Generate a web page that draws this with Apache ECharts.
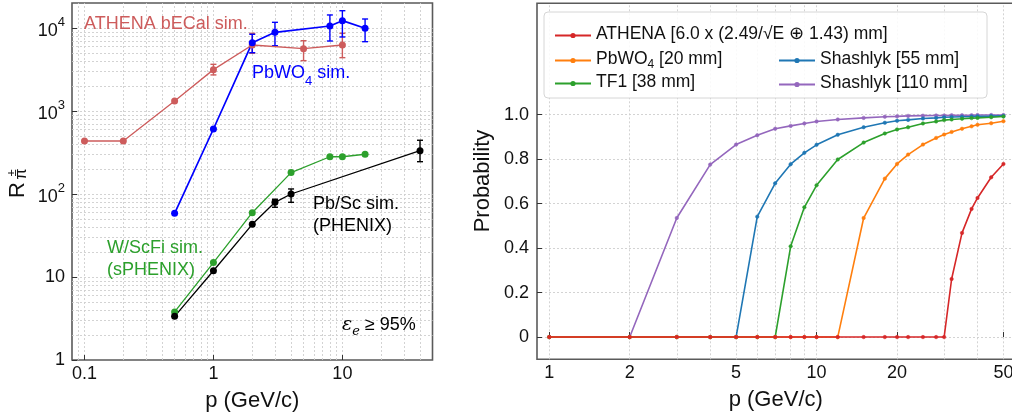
<!DOCTYPE html>
<html><head><meta charset="utf-8">
<script src="https://cdn.jsdelivr.net/npm/echarts@6/dist/echarts.min.js"></script>
<style>html,body{margin:0;padding:0;background:#fff}#c{width:1012px;height:419px}</style>
</head><body><div id="c"></div>
<script>
// ---------- Left panel: pion rejection R vs p ----------
const athenaP  = [0.1, 0.2, 0.5, 1, 2, 5, 10];
const athenaR  = [435, 435, 1320, 3150, 6240, 5630, 6240];
const athenaLo = [null, null, null, 2720, 4960, 4040, 4390];
const athenaHi = [null, null, null, 3650, 8630, 7030, 8630];

const pbwoP  = [0.5, 1, 2, 3, 8, 10, 15];
const pbwoR  = [58.5, 607, 6650, 8870, 10570, 12250, 9910];
const pbwoLo = [null, null, 5040, 6120, 6970, 7790, 6840];
const pbwoHi = [null, null, 8390, 11700, 14350, 16150, 12830];

const wscfiP = [0.5, 1, 2, 4, 8, 10, 15];
const wscfiR = [3.79, 14.9, 59.5, 181, 281, 281, 301];

const pbscP  = [0.5, 1, 2, 3, 4, 40];
const pbscR  = [3.36, 11.9, 43.1, 79.4, 100, 332];
const pbscLo = [null, null, null, 69.2, 79.4, 245];
const pbscHi = [null, null, null, 86.3, 115, 444];

const leftXLabels = [0.1, 1, 10];
const leftYLabels = [1, 10, 100, 1000, 10000];

// ---------- Right panel: probability vs p ----------
const pGrid = [1, 2, 3, 4, 5, 6, 7, 8, 9, 10, 12, 15, 18, 20, 22, 25, 28, 30, 32, 35, 38, 40, 45, 50];
const probAthena = [0,0,0,0,0,0,0,0,0,0,0,0,0,0,0,0,0,0, 0.261,0.468,0.576,0.625,0.718,0.778];
const probPbWO4  = [0,0,0,0,0,0,0,0,0,0,0, 0.535,0.712,0.778,0.820,0.865,0.895,0.910,0.922,0.936,0.947,0.954,0.961,0.970];
const probTF1    = [0,0,0,0,0,0,0, 0.408,0.583,0.682,0.798,0.874,0.915,0.933,0.943,0.960,0.969,0.975,0.978,0.981,0.984,0.985,0.988,0.991];
const probSh55   = [0,0,0,0,0, 0.541,0.691,0.777,0.828,0.864,0.909,0.943,0.963,0.972,0.976,0.982,0.985,0.988,0.989,0.990,0.991,0.992,0.993,0.994];
const probSh110  = [0,0, 0.535,0.775,0.865,0.907,0.936,0.949,0.960,0.969,0.978,0.985,0.990,0.992,0.994,0.995,0.996,0.996,0.997,0.997,0.997,0.998,0.998,0.998];

const rightXLabels = [1, 2, 5, 10, 20, 50];
const rightYLabels = [0, 0.2, 0.4, 0.6, 0.8, 1.0];

const seriesNames = {
  athena: 'ATHENA [6.0 x (2.49/\u221AE \u2295 1.43) mm]',
  pbwo: 'PbWO4 [20 mm]',
  tf1: 'TF1 [38 mm]',
  sh55: 'Shashlyk [55 mm]',
  sh110: 'Shashlyk [110 mm]'
};

// ---------- helpers ----------
const FONT = 'Liberation Sans, Arial, Helvetica, sans-serif';
const GRIDC = '#cfcfcf';
function zip(xs, ys) { return xs.map((x, i) => [x, ys[i]]); }
function minors(decades) {
  const out = [];
  decades.forEach(d => { for (let k = 2; k <= 9; k++) out.push(+(k * d).toPrecision(6)); });
  return out;
}
function errSeries(xs, lo, hi, color, gi) {
  const data = [];
  xs.forEach((x, i) => { if (lo[i] != null) data.push([x, lo[i], hi[i]]); });
  return {
    type: 'custom', xAxisIndex: gi, yAxisIndex: gi, z: 4, silent: true,
    encode: { x: 0, y: [1, 2] }, data,
    renderItem: (params, api) => {
      const x = api.value(0);
      const a = api.coord([x, api.value(1)]);
      const b = api.coord([x, api.value(2)]);
      const w = 3, st = { stroke: color, lineWidth: 1.4 };
      return { type: 'group', children: [
        { type: 'line', shape: { x1: a[0], y1: a[1], x2: b[0], y2: b[1] }, style: st },
        { type: 'line', shape: { x1: a[0] - w, y1: a[1], x2: a[0] + w, y2: a[1] }, style: st },
        { type: 'line', shape: { x1: b[0] - w, y1: b[1], x2: b[0] + w, y2: b[1] }, style: st }
      ]};
    }
  };
}
function gridLines(gi, xs, ys, anchor) {
  return {
    type: 'line', xAxisIndex: gi, yAxisIndex: gi, z: 0, silent: true,
    data: [anchor], symbol: 'none', lineStyle: { opacity: 0 },
    markLine: {
      z: 0, silent: true, symbol: 'none', animation: false,
      label: { show: false },
      lineStyle: { type: [2, 2], color: GRIDC, width: 0.9 },
      emphasis: { disabled: true },
      data: xs.map(v => ({ xAxis: v })).concat(ys.map(v => ({ yAxis: v })))
    }
  };
}
function fmtNum(v) { return String(+(+v).toPrecision(6)); }

const leftMinorX = [0.09].concat(minors([0.1, 1]), [20, 30, 40]);
const leftGridX = leftXLabels.concat(leftMinorX);
const leftGridY = [10, 100, 1000, 10000].concat(minors([1, 10, 100, 1000]));
const rightGridX = [2, 3, 4, 5, 6, 7, 8, 9, 10, 20, 30, 40, 50, 1];

const ATH = '#cd5c5c', BLUE = '#0000ff', GREEN = '#2ca02c', BLACK = '#000000';

const leftLine = (name, xs, ys, color, w) => ({
  name, type: 'line', xAxisIndex: 0, yAxisIndex: 0, z: 6,
  data: zip(xs, ys), symbol: 'none', showSymbol: false,
  lineStyle: { color, width: w }, itemStyle: { color }, animation: false
});
const leftDots = (name, xs, ys, color) => ({
  name: name + ' pts', type: 'scatter', xAxisIndex: 0, yAxisIndex: 0, z: 8,
  data: zip(xs, ys), symbol: 'circle', symbolSize: 7,
  itemStyle: { color, opacity: 1, borderWidth: 0 }, animation: false, silent: true
});
const rightLine = (name, ys, color, z) => ({
  name, type: 'line', xAxisIndex: 1, yAxisIndex: 1, z,
  data: zip(pGrid, ys), symbol: 'circle', symbolSize: 3.5, showSymbol: true,
  itemStyle: { color, borderColor: color, borderWidth: 0.5 },
  lineStyle: { color, width: 1.6 }, animation: false
});

const chart = echarts.init(document.getElementById('c'), null, { renderer: 'canvas' });
const tickLabel = { fontSize: 18, color: '#111', fontFamily: FONT };
const legText = { fontSize: 17.5, color: '#111', fontFamily: FONT };
const legBase = { z: 20, orient: 'vertical', itemWidth: 36, itemHeight: 4, itemGap: 2, selectedMode: false };

const option = {
  animation: false,
  backgroundColor: '#fff',
  textStyle: { fontFamily: FONT },
  grid: [
    { left: 72, top: 3, width: 360.5, height: 357, show: true, borderColor: '#5a5a5a', borderWidth: 1.6, backgroundColor: 'transparent', containLabel: false, outerBoundsMode: 'none' },
    { left: 537, top: 3.3, width: 477.5, height: 356, show: true, borderColor: '#5a5a5a', borderWidth: 1.6, backgroundColor: 'transparent', containLabel: false, outerBoundsMode: 'none' }
  ],
  xAxis: [
    { type: 'log', logBase: 10, gridIndex: 0, min: 0.08, max: 50,
      axisLine: { show: false }, splitLine: { show: false },
      axisTick: { show: true, inside: true, length: 5, customValues: leftXLabels, lineStyle: { color: '#333' } },
      axisLabel: Object.assign({ customValues: leftXLabels, margin: 5, formatter: fmtNum }, tickLabel),
      name: 'p (GeV/c)', nameLocation: 'middle', nameGap: 30,
      nameTextStyle: { fontSize: 22, color: '#111', fontFamily: FONT } },
    { type: 'log', logBase: 10, gridIndex: 1, min: 0.9, max: 55,
      axisLine: { show: false }, splitLine: { show: false },
      axisTick: { show: true, inside: true, length: 5, customValues: rightXLabels, lineStyle: { color: '#333' } },
      axisLabel: Object.assign({ customValues: rightXLabels, margin: 5, formatter: fmtNum }, tickLabel),
      name: 'p (GeV/c)', nameLocation: 'middle', nameGap: 30,
      nameTextStyle: { fontSize: 22, color: '#111', fontFamily: FONT } }
  ],
  yAxis: [
    { type: 'log', logBase: 10, gridIndex: 0, min: 1, max: 20000,
      axisLine: { show: false }, splitLine: { show: false },
      axisTick: { show: true, inside: true, length: 5, customValues: leftYLabels, lineStyle: { color: '#333' } },
      axisLabel: Object.assign({ customValues: leftYLabels, margin: 7,
        formatter: v => { const e = Math.round(Math.log10(v)); return e < 2 ? '{b|' + fmtNum(v) + '}' : '{p|10}{s|' + e + '}'; },
        rich: {
          b: { fontSize: 18, color: '#111', fontFamily: FONT },
          p: { fontSize: 18, color: '#111', fontFamily: FONT, padding: [7, 0, 0, 0] },
          s: { fontSize: 13, color: '#111', fontFamily: FONT, verticalAlign: 'top' }
        } }, tickLabel) },
    { type: 'value', gridIndex: 1, min: -0.1, max: 1.5, interval: 0.1,
      axisLine: { show: false },
      splitLine: { show: true, lineStyle: { type: [2, 2], color: GRIDC, width: 0.9 } },
      axisTick: { show: true, inside: true, length: 5, customValues: rightYLabels, lineStyle: { color: '#333' } },
      axisLabel: Object.assign({ customValues: rightYLabels, margin: 8,
        formatter: v => Math.abs(v) < 1e-9 ? '0' : (+v).toFixed(1) }, tickLabel) }
  ],
  legend: [
    Object.assign({}, legBase, { data: [seriesNames.athena], left: 549, top: 20,
      formatter: n => '{t|' + n + '}',
      textStyle: Object.assign({ rich: { t: Object.assign({ padding: [0, 0, 3, 0] }, legText) } }, legText) }),
    Object.assign({}, legBase, { data: [seriesNames.pbwo, seriesNames.tf1], left: 549, top: 45,
      formatter: n => n === seriesNames.pbwo ? '{t|PbWO}{s|4}{t| [20 mm]}' : '{t|' + n + '}',
      textStyle: Object.assign({
        rich: { t: Object.assign({ padding: [0, 0, 3, 0] }, legText),
                s: { fontSize: 12, color: '#111', fontFamily: FONT, verticalAlign: 'bottom' } } }, legText) }),
    Object.assign({}, legBase, { data: [seriesNames.sh55, seriesNames.sh110], left: 773, top: 45, itemGap: 6,
      formatter: n => '{t|' + n + '}',
      textStyle: Object.assign({ rich: { t: Object.assign({ padding: [0, 0, 3, 0] }, legText) } }, legText) })
  ],
  graphic: [
    { type: 'rect', z: 15, shape: { x: 544, y: 12, width: 443, height: 86, r: 4 },
      style: { fill: 'rgba(255,255,255,0.85)', stroke: '#d6d6d6', lineWidth: 1 }, silent: true },
    { type: 'text', z: 60, x: 84, y: 24, style: { text: 'ATHENA bECal sim.', fontSize: 18, fontFamily: FONT, fill: ATH, verticalAlign: 'middle', textVerticalAlign: 'middle' } },
    { type: 'text', z: 60, x: 252, y: 76, style: { text: '{a|PbWO}{b|4}{a| sim.}', fontSize: 18, fontFamily: FONT, fill: BLUE, verticalAlign: 'middle', textVerticalAlign: 'middle',
        rich: { a: { fontSize: 18, fill: BLUE, color: BLUE, fontFamily: FONT, padding: [0, 0, 5, 0] }, b: { fontSize: 13, fill: BLUE, color: BLUE, fontFamily: FONT, verticalAlign: 'bottom' } } } },
    { type: 'text', z: 60, x: 313, y: 204, style: { text: 'Pb/Sc sim.', fontSize: 18, fontFamily: FONT, fill: BLACK, verticalAlign: 'middle', textVerticalAlign: 'middle' } },
    { type: 'text', z: 60, x: 313, y: 226, style: { text: '(PHENIX)', fontSize: 18, fontFamily: FONT, fill: BLACK, verticalAlign: 'middle', textVerticalAlign: 'middle' } },
    { type: 'text', z: 60, x: 107, y: 248, style: { text: 'W/ScFi sim.', fontSize: 18, fontFamily: FONT, fill: GREEN, verticalAlign: 'middle', textVerticalAlign: 'middle' } },
    { type: 'text', z: 60, x: 107, y: 270, style: { text: '(sPHENIX)', fontSize: 18, fontFamily: FONT, fill: GREEN, verticalAlign: 'middle', textVerticalAlign: 'middle' } },
    { type: 'text', z: 60, x: 342, y: 327, style: { text: '{i|\u03B5}{j|e}{n| \u2265 95%}', fontSize: 18, fontFamily: FONT, fill: BLACK, verticalAlign: 'middle', textVerticalAlign: 'middle',
        rich: { i: { fontSize: 19, fontStyle: 'italic', fontFamily: 'DejaVu Serif', padding: [0, 0, 4, 0] }, j: { fontSize: 13, fontStyle: 'italic', fontFamily: 'DejaVu Serif', verticalAlign: 'bottom' }, n: { fontSize: 18, fontFamily: FONT, padding: [0, 0, 4, 0] } } } },
    // y-axis titles
    { type: 'text', z: 60, x: 18, y: 190, rotation: Math.PI / 2, style: { text: 'R', fontSize: 22, fontFamily: FONT, fill: '#111', align: 'center', verticalAlign: 'middle', textAlign: 'center', textVerticalAlign: 'middle' } },
    { type: 'text', z: 60, x: 22, y: 174, rotation: Math.PI / 2, style: { text: '\u03C0', fontSize: 16, fontFamily: FONT, fill: '#111', align: 'center', verticalAlign: 'middle', textAlign: 'center', textVerticalAlign: 'middle' } },
    { type: 'text', z: 60, x: 12, y: 173, rotation: Math.PI / 2, style: { text: '\u00B1', fontSize: 13, fontFamily: FONT, fill: '#111', align: 'center', verticalAlign: 'middle', textAlign: 'center', textVerticalAlign: 'middle' } },
    { type: 'text', z: 60, x: 483, y: 181, rotation: Math.PI / 2, style: { text: 'Probability', fontSize: 22, fontFamily: FONT, fill: '#111', align: 'center', verticalAlign: 'middle', textAlign: 'center', textVerticalAlign: 'middle' } }
  ],
  series: [
    gridLines(0, leftGridX, leftGridY, [1, 1]),
    gridLines(1, rightGridX, [], [1, 0]),
    leftLine('ATHENA bECal', athenaP, athenaR, ATH, 1.3),
    errSeries(athenaP, athenaLo, athenaHi, ATH, 0),
    leftDots('ATHENA bECal', athenaP, athenaR, ATH),
    leftLine('W/ScFi', wscfiP, wscfiR, GREEN, 1.3),
    leftDots('W/ScFi', wscfiP, wscfiR, GREEN),
    leftLine('Pb/Sc', pbscP, pbscR, BLACK, 1.3),
    errSeries(pbscP, pbscLo, pbscHi, BLACK, 0),
    leftDots('Pb/Sc', pbscP, pbscR, BLACK),
    leftLine('PbWO4 sim', pbwoP, pbwoR, BLUE, 1.7),
    errSeries(pbwoP, pbwoLo, pbwoHi, BLUE, 0),
    leftDots('PbWO4 sim', pbwoP, pbwoR, BLUE),
    rightLine(seriesNames.sh110, probSh110, '#9467bd', 6),
    rightLine(seriesNames.sh55, probSh55, '#1f77b4', 7),
    rightLine(seriesNames.tf1, probTF1, '#2ca02c', 8),
    rightLine(seriesNames.pbwo, probPbWO4, '#ff7f0e', 9),
    rightLine(seriesNames.athena, probAthena, '#d62728', 10)
  ]
};
chart.setOption(option);
</script>
</body></html>
